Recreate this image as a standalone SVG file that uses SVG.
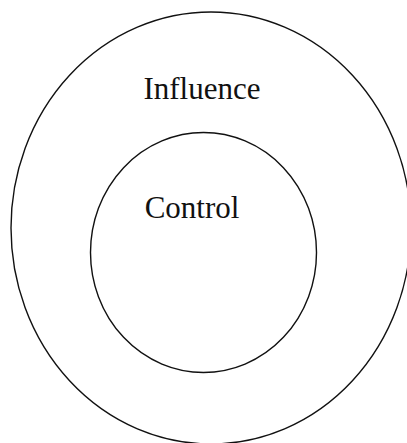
<svg xmlns="http://www.w3.org/2000/svg" width="407" height="443" viewBox="0 0 407 443">
<style>
.ring{fill:none;stroke:#111;stroke-width:1.4}
.lbl{font-family:"Liberation Serif","Times New Roman",serif;font-size:31px;fill:#111;text-anchor:middle}
</style>
<rect width="407" height="443" fill="#fff"/>
<g id="influence">
<ellipse class="ring" cx="211" cy="228" rx="200" ry="216"/>
<text class="lbl" x="202" y="99">Influence</text>
</g>
<g id="control">
<ellipse class="ring" cx="203.5" cy="252.5" rx="113" ry="120"/>
<text class="lbl" x="192" y="218">Control</text>
</g>
<g id="connectors"></g>
</svg>
